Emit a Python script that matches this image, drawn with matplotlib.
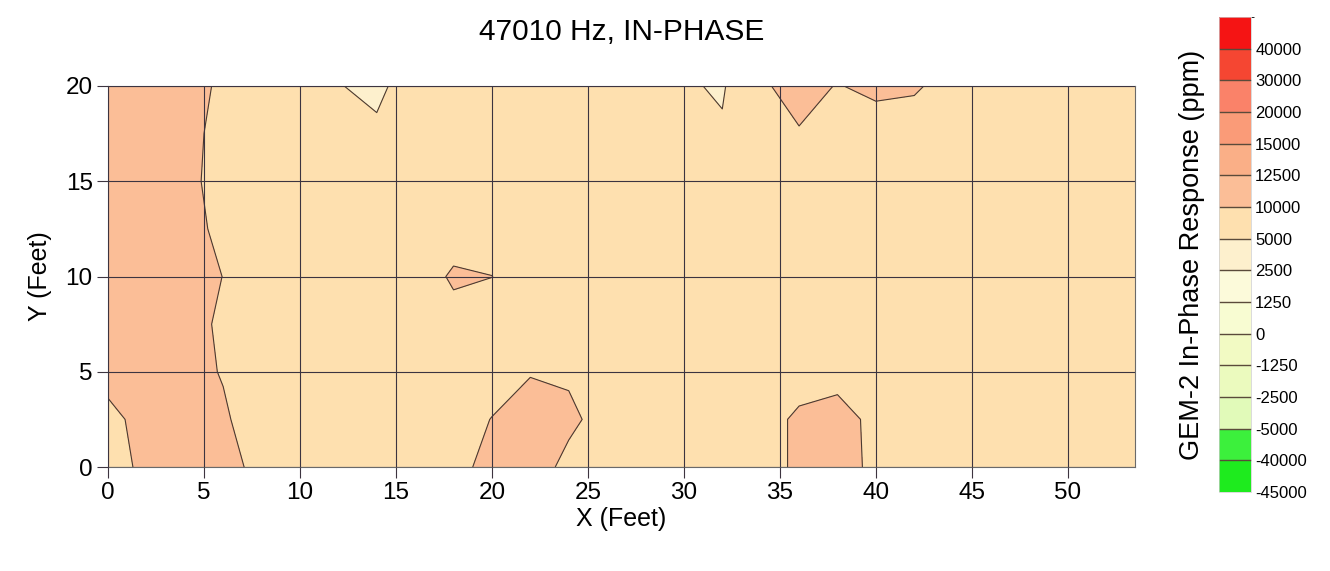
import numpy as np
import matplotlib
matplotlib.use("Agg")
import matplotlib.pyplot as plt
from matplotlib.colors import ListedColormap, BoundaryNorm

plt.rcParams['font.family'] = ['Liberation Sans', 'DejaVu Sans']

# survey grid (feet)
x_nodes = [0, 2, 4, 6, 8, 10, 12, 14, 16, 18, 20, 22, 24, 26,
           28, 30, 32, 34, 36, 38, 40, 42, 44, 46, 48, 50, 52, 54]
y_nodes = [0, 2.5, 5, 7.5, 10, 12.5, 15, 17.5, 20]

# in-phase response (ppm), one row per y line, bottom to top
resp = [
    [8150, 11000, 11000, 10600, 9500, 7600, 7400, 7500, 7700, 9200, 10800, 11200, 9350, 7600,
     7500, 7400, 7600, 7500, 11070, 11000, 9460, 7600, 7500, 7400, 7500, 7600, 7500, 7500],
    [9200, 11000, 11000, 10400, 8400, 7500, 7600, 7500, 7400, 7500, 10150, 11500, 10500, 9070,
     7600, 7500, 7500, 7500, 11070, 11200, 9200, 7700, 7500, 7600, 7500, 7400, 7500, 7500],
    [11000, 11000, 11000, 9820, 7500, 7400, 7500, 7600, 7500, 7500, 7500, 9800, 9670, 7700,
     7500, 7600, 7400, 7500, 7250, 8890, 7600, 7500, 7500, 7500, 7600, 7500, 7400, 7500],
    [11000, 11000, 11000, 9570, 7500, 7600, 7500, 7500, 7600, 7430, 7500, 7600, 7500, 7500,
     7400, 7500, 7600, 7500, 7500, 7600, 7500, 7400, 7500, 7600, 7500, 7500, 7600, 7500],
    [11000, 11000, 11000, 9970, 7600, 7500, 7400, 7500, 6000, 11000, 10050, 7500, 7600, 7500,
     7500, 7600, 7500, 7400, 7500, 7500, 7600, 7500, 7500, 7400, 7500, 7600, 7500, 7500],
    [11000, 11000, 11000, 9330, 7500, 7400, 7600, 7500, 7500, 6450, 7500, 7600, 7500, 7400,
     7500, 7500, 7600, 7500, 7500, 7400, 7500, 7600, 7500, 7500, 7600, 7500, 7400, 7500],
    [11000, 11000, 11000, 8650, 7500, 7600, 7500, 7400, 7500, 7600, 7500, 7500, 7400, 7600,
     7500, 7600, 7500, 7500, 7600, 7500, 7500, 7400, 7500, 7600, 7500, 7500, 7600, 7500],
    [11000, 11000, 11000, 9000, 7600, 7500, 7500, 5790, 7500, 7400, 7500, 7600, 7500, 7500,
     7600, 7500, 5430, 8600, 9560, 7500, 6810, 8000, 7500, 7500, 7400, 7500, 7600, 7500],
    [11000, 11000, 11000, 9570, 7500, 7600, 5180, 4000, 7330, 7500, 7600, 7500, 7500, 7400,
     7500, 5400, 4600, 9100, 12300, 9700, 11500, 10500, 8500, 7500, 7600, 7500, 7500, 7500],
]

levels = [-45000, -40000, -5000, -2500, -1250, 0, 1250, 2500, 5000,
          10000, 12500, 15000, 20000, 30000, 40000, 45000]
band_colors = ['#1eeb1e', '#3cf03c', '#e1fab9', '#ebfabe', '#f2fac3', '#f8fcd2',
               '#fcfada', '#fdf0cd', '#fee0af', '#fbbe97', '#faaf87', '#fa9b78',
               '#fa8269', '#f54632', '#f51414']

cmap = ListedColormap(band_colors)
norm = BoundaryNorm(levels, cmap.N)

X, Y = np.meshgrid(x_nodes, y_nodes)
Z = np.array(resp, dtype=float)

fig = plt.figure(figsize=(13.3, 5.71), dpi=100)
ax = fig.add_axes([0.0812, 0.1821, 0.7722, 0.6673])
cs = ax.contourf(X, Y, Z, levels=levels, cmap=cmap, norm=norm)
ax.contour(X, Y, Z, levels=levels, colors='#4a3a30', linewidths=0.8)

ax.set_xlim(0, 53.5)
ax.set_ylim(0, 20)
ax.set_xticks(range(0, 55, 5))
ax.set_yticks(range(0, 25, 5))
ax.grid(True, color='#3c3440', linewidth=0.8)
ax.set_axisbelow(False)
ax.tick_params(direction='out', length=8, width=0.8, color='#3c3440', labelsize=17.5, pad=3)
for s in ax.spines.values():
    s.set_color('#6a6a6a')
    s.set_linewidth(0.8)

ax.set_xlabel('X (Feet)', fontsize=18, labelpad=2)
ax.set_ylabel('Y (Feet)', fontsize=18, labelpad=10)
ax.set_title('47010 Hz, IN-PHASE', fontsize=21.5, pad=33)

cax = fig.add_axes([0.9165, 0.1384, 0.0241, 0.8319])
cb = fig.colorbar(cs, cax=cax, ticks=levels[:-1], drawedges=True)
cb.outline.set_edgecolor('#cccccc')
cb.outline.set_linewidth(0.5)
cb.dividers.set_color('#5a4a3a')
cb.dividers.set_linewidth(1.0)
cax.tick_params(length=0, labelsize=12, pad=3)
cax.set_yticklabels([str(v) for v in levels[:-1]])
cb.set_label('GEM-2 In-Phase Response (ppm)', fontsize=19.5, labelpad=10)
cax.yaxis.set_label_position('left')

fig.savefig('out.png', dpi=100)
